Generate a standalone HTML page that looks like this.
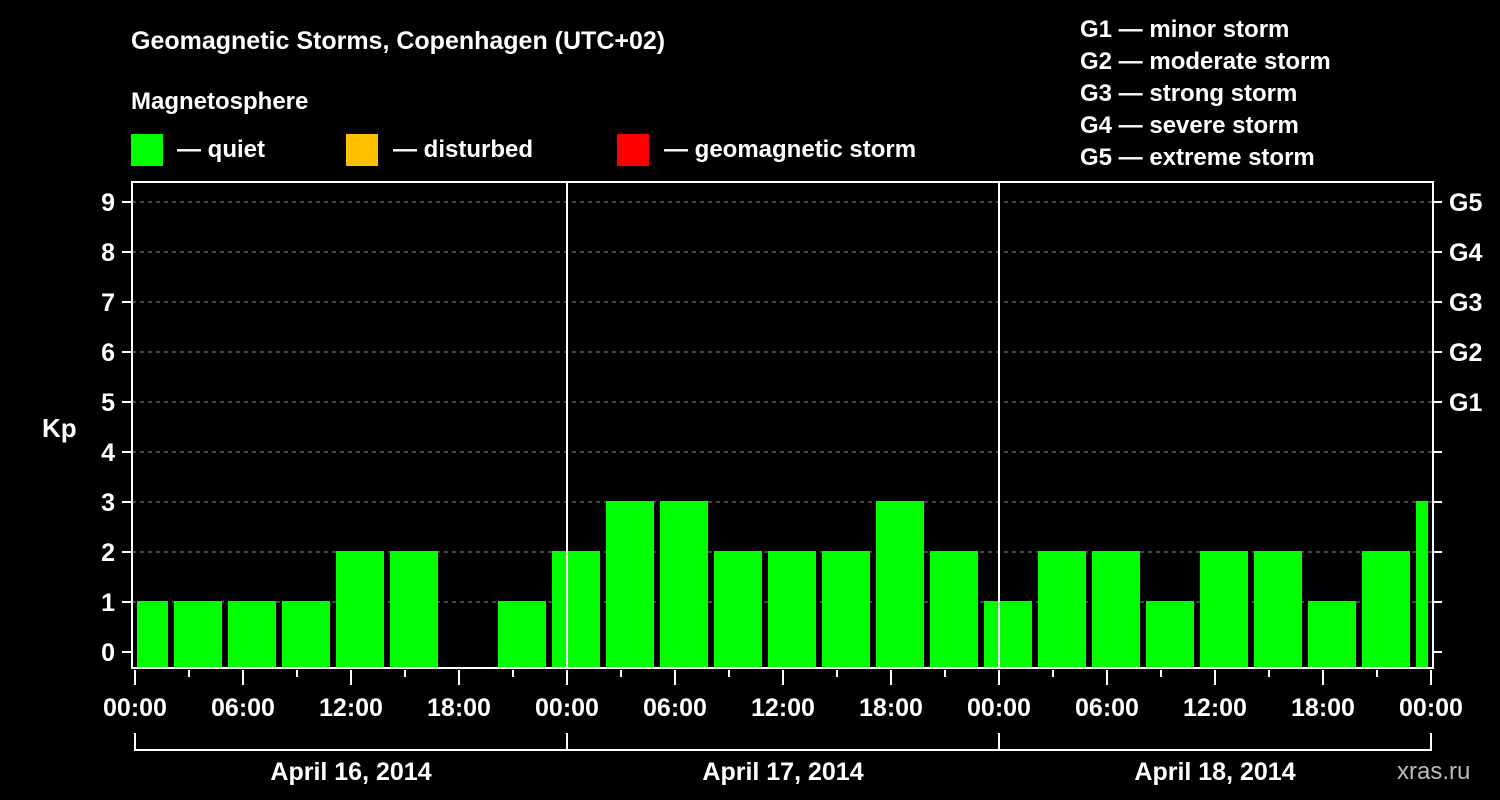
<!DOCTYPE html>
<html><head><meta charset="utf-8"><style>
body{margin:0;background:#000;width:1500px;height:800px;overflow:hidden}
svg{display:block;font-family:"Liberation Sans",Arial,sans-serif;font-weight:bold;fill:#fff}
</style></head><body>
<svg id="c" width="1500" height="800">
<text x="131" y="49" font-size="25">Geomagnetic Storms, Copenhagen (UTC+02)</text>
<text x="131" y="109" font-size="24">Magnetosphere</text>
<g><rect x="131" y="134" width="32" height="32" fill="#00ff00"/><text x="177" y="157" font-size="24">— quiet</text></g>
<g><rect x="346" y="134" width="32" height="32" fill="#ffc000"/><text x="393" y="157" font-size="24">— disturbed</text></g>
<g><rect x="617" y="134" width="32" height="32" fill="#ff0000"/><text x="664" y="157" font-size="24">— geomagnetic storm</text></g>
<g font-size="24">
<text x="1080" y="37">G1 — minor storm</text><text x="1080" y="69">G2 — moderate storm</text><text x="1080" y="101">G3 — strong storm</text><text x="1080" y="133">G4 — severe storm</text><text x="1080" y="165">G5 — extreme storm</text></g>
<text x="42" y="437" font-size="26">Kp</text>
<text x="1397" y="779" font-size="24" fill="#bbb" style="fill:#bbb;font-weight:normal">xras.ru</text>
<g id="grid"></g><g id="bars"></g><g id="axes"></g>
</svg>
<script>
const kpValues=[1,1,1,1,2,2,0,1,2,3,3,2,2,2,3,2,1,2,2,1,2,2,1,2,3];
const dayLabels=["April 16, 2014","April 17, 2014","April 18, 2014"];
const hourLabels=["00:00","06:00","12:00","18:00"];
const stormLabels=["G1","G2","G3","G4","G5"];
const NS="http://www.w3.org/2000/svg";
const L=132,R=1433,T=182,B=668,X0=135,PXH=18,Y0=652,PKP=50;
const xh=h=>X0+h*PXH, yk=k=>Y0-k*PKP;
function mk(p,tag,a){const e=document.createElementNS(NS,tag);for(const k in a)e.setAttribute(k,a[k]);document.getElementById(p).appendChild(e);return e;}
for(let k=0;k<=9;k++){
 if(k>0){const g=mk('grid','line',{x1:L,x2:R,y1:yk(k),y2:yk(k),stroke:'#888','stroke-dasharray':'4,4','stroke-width':1});
 }
 const t=mk('axes','line',{x1:122,x2:L,y1:yk(k),y2:yk(k),stroke:'#fff','stroke-width':2});
 
 const tx=mk('axes','text',{x:115,y:yk(k)+9,'font-size':25,'text-anchor':'end'});tx.textContent=k;
 
 const rt=mk('axes','line',{x1:R,x2:1442,y1:yk(k),y2:yk(k),stroke:'#fff','stroke-width':2});
 
 if(k>=5){const s=mk('axes','text',{x:1449,y:yk(k)+9,'font-size':25});s.textContent=stormLabels[k-5];
 }
}
kpValues.forEach((v,i)=>{
 if(v<=0)return;
 let x1=Math.max(xh(2+3*(i-1))+3,X0+2), x2=Math.min(xh(2+3*i)-3,R-5);
 const c=v>=5?'#ff0000':v>=4?'#ffc000':'#00ff00';
 const b=mk('bars','rect',{x:x1,y:yk(v)-1,width:x2-x1,height:B-yk(v)+1,fill:c});
 
});
const f=mk('axes','rect',{x:L,y:T,width:R-L,height:B-T,fill:'none',stroke:'#fff','stroke-width':2});

for(let d=1;d<3;d++){const l=mk('axes','line',{x1:xh(24*d),x2:xh(24*d),y1:T,y2:B,stroke:'#fff','stroke-width':2});
 }
for(let h=0;h<=72;h+=3){const maj=h%6===0;
 const t=mk('axes','line',{x1:xh(h),x2:xh(h),y1:B+2,y2:maj?685:677,stroke:'#fff','stroke-width':2});
 
 if(maj){const tx=mk('axes','text',{x:xh(h),y:716,'font-size':25,'text-anchor':'middle'});tx.textContent=hourLabels[(h%24)/6];
 }}
dayLabels.forEach((d,i)=>{
 const p=mk('axes','path',{d:`M${xh(24*i)},733 V750 H${xh(24*(i+1))} V733`,fill:'none',stroke:'#fff','stroke-width':2});
 
 const t=mk('axes','text',{x:xh(24*i+12),y:780,'font-size':25,'text-anchor':'middle'});t.textContent=d;
 
});
</script>
</body></html>
